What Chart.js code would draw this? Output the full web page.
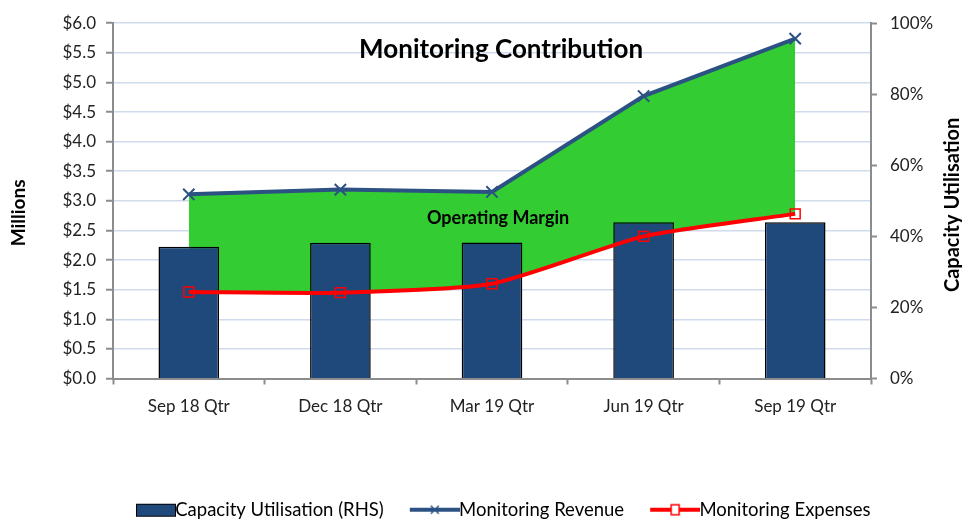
<!DOCTYPE html>
<html>
<head>
<meta charset="utf-8">
<script src="https://cdn.jsdelivr.net/npm/chart.js@4"></script>
<style>
  html, body { margin: 0; padding: 0; background: #fff; }
  #wrap { width: 962px; height: 519px; position: relative; }
</style>
</head>
<body>
<div id="wrap"><canvas id="grafico"></canvas></div>
<script>
// Datos
const categorias = ["Sep 18 Qtr", "Dec 18 Qtr", "Mar 19 Qtr", "Jun 19 Qtr", "Sep 19 Qtr"];
const capacidad = [37.1, 38.2, 38.3, 44.0, 44.0];      // % (eje derecho)
const ingresos = [3.11, 3.19, 3.15, 4.77, 5.74];        // $M
const gastos = [1.46, 1.45, 1.60, 2.40, 2.78];          // $M
const ejeIzqMax = 6, ejeIzqPaso = 0.5;
const ejeDerMax = 100, ejeDerPaso = 20;

const FUENTE = "Lato, 'Open Sans', sans-serif";
const AZUL_BARRA = "#1f487b";
const AZUL_LINEA = "#2c5284";
const ROJO = "#ff0000";
const VERDE = "#33cc33";
const GRIS = "#8c8c8c";

Chart.defaults.font.family = FUENTE;
Chart.defaults.color = "#222";

// Símbolos de la leyenda (contenido pegado a la derecha del lienzo)
function simbolo(tipo) {
  const c = document.createElement("canvas");
  c.width = 76; c.height = 16;
  const g = c.getContext("2d");
  const ym = 8;
  if (tipo === "barra") {
    g.fillStyle = AZUL_BARRA;
    g.fillRect(36, 2, 40, 13);
    g.strokeStyle = "#000"; g.lineWidth = 1;
    g.strokeRect(36.5, 2.5, 39, 12);
  } else {
    const col = tipo === "ingresos" ? AZUL_LINEA : ROJO;
    const x0 = 26, x1 = 76;
    g.strokeStyle = col; g.lineWidth = 4;
    g.beginPath(); g.moveTo(x0, ym); g.lineTo(x1, ym); g.stroke();
    const cx = (x0 + x1) / 2;
    g.lineWidth = 1.5;
    if (tipo === "ingresos") {
      g.beginPath();
      g.moveTo(cx - 4, ym - 4); g.lineTo(cx + 4, ym + 4);
      g.moveTo(cx + 4, ym - 4); g.lineTo(cx - 4, ym + 4);
      g.stroke();
    } else {
      g.fillStyle = "#fff";
      g.fillRect(cx - 4, ym - 5, 8, 10);
      g.strokeRect(cx - 4, ym - 5, 8, 10);
    }
  }
  return c;
}

// Textos dentro del gráfico y títulos de ejes
const textos = {
  id: "textos",
  afterLayout(chart) {
    chart.legend.left = 100;
  },
  afterDatasetsDraw(chart) {
    const { ctx, scales, chartArea } = chart;
    ctx.save();
    ctx.fillStyle = "#000";
    ctx.textAlign = "center";
    ctx.textBaseline = "middle";
    ctx.font = "bold 26px " + FUENTE;
    ctx.fillText("Monitoring Contribution", scales.x.getPixelForValue(2.06), scales.y.getPixelForValue(5.56));
    ctx.font = "bold 18px " + FUENTE;
    ctx.fillText("Operating Margin", scales.x.getPixelForValue(2.04), scales.y.getPixelForValue(2.71));

    const ym = (chartArea.top + chartArea.bottom) / 2;
    ctx.font = "bold 19px " + FUENTE;
    ctx.translate(19, ym + 12);
    ctx.rotate(-Math.PI / 2);
    ctx.fillText("Millions", 0, 0);
    ctx.restore();

    ctx.save();
    ctx.fillStyle = "#000";
    ctx.textAlign = "center";
    ctx.textBaseline = "middle";
    ctx.font = "bold 20px " + FUENTE;
    ctx.translate(953, ym + 4);
    ctx.rotate(-Math.PI / 2);
    ctx.fillText("Capacity Utilisation", 0, 0);
    ctx.restore();
  }
};

const ctx = document.getElementById("grafico").getContext("2d");

new Chart(ctx, {
  type: "bar",
  data: {
    labels: categorias,
    datasets: [
      {
        type: "bar",
        label: "Capacity Utilisation (RHS)",
        data: capacidad,
        yAxisID: "y1",
        backgroundColor: AZUL_BARRA,
        borderColor: "#000",
        borderWidth: 1.5,
        categoryPercentage: 1,
        barPercentage: 0.4,
        order: 2
      },
      {
        type: "line",
        label: "Monitoring Revenue",
        data: ingresos,
        yAxisID: "y",
        borderColor: AZUL_LINEA,
        borderWidth: 4,
        pointStyle: "crossRot",
        pointRadius: 8,
        pointBorderWidth: 2,
        pointBorderColor: AZUL_LINEA,
        tension: 0,
        fill: { target: 2, above: VERDE, below: VERDE },
        order: 0
      },
      {
        type: "line",
        label: "Monitoring Expenses",
        data: gastos,
        yAxisID: "y",
        borderColor: ROJO,
        borderWidth: 4,
        pointStyle: "rect",
        pointRadius: 7,
        pointBorderWidth: 1.5,
        pointBorderColor: ROJO,
        pointBackgroundColor: "rgba(255,255,255,0)",
        tension: 0.2,
        fill: false,
        order: 1
      }
    ]
  },
  options: {
    responsive: true,
    maintainAspectRatio: false,
    animation: false,
    layout: { padding: { top: 23, left: 0, right: 0, bottom: -10 } },
    scales: {
      x: {
        offset: true,
        grid: { offset: true, drawOnChartArea: false, tickLength: 6, tickColor: GRIS, tickWidth: 2 },
        border: { color: GRIS, width: 2 },
        ticks: { font: { size: 17 }, color: "#222", padding: 12, maxRotation: 0 },
        afterFit(s) { s.height = 112; }
      },
      y: {
        position: "left",
        min: 0, max: ejeIzqMax,
        grid: { color: "#d0dcee", lineWidth: 1.5, tickLength: 7, tickColor: GRIS, tickWidth: 2 },
        border: { color: GRIS, width: 2 },
        ticks: {
          stepSize: ejeIzqPaso,
          font: { size: 17 }, color: "#222", padding: 10,
          callback: v => "$" + v.toFixed(1)
        },
        afterFit(s) { s.width = 113; }
      },
      y1: {
        position: "right",
        min: 0, max: ejeDerMax,
        grid: { drawOnChartArea: false, tickLength: 6, tickColor: GRIS, tickWidth: 2 },
        border: { color: GRIS, width: 2 },
        ticks: {
          stepSize: ejeDerPaso,
          font: { size: 17 }, color: "#222", padding: 13,
          callback: v => v + "%"
        },
        afterFit(s) { s.width = 91; }
      }
    },
    plugins: {
      filler: { drawTime: "beforeDatasetsDraw" },
      tooltip: { enabled: false },
      legend: {
        position: "bottom",
        align: "start",
        labels: {
          usePointStyle: true,
          pointStyleWidth: 56,
          padding: 10,
          font: { size: 18.5 },
          color: "#222",
          generateLabels() {
            return [
              { text: "Capacity Utilisation (RHS)", pointStyle: simbolo("barra"), datasetIndex: 0, lineWidth: 0, strokeStyle: "rgba(0,0,0,0)", fillStyle: "rgba(0,0,0,0)" },
              { text: "Monitoring Revenue", pointStyle: simbolo("ingresos"), datasetIndex: 1, lineWidth: 0, strokeStyle: "rgba(0,0,0,0)", fillStyle: "rgba(0,0,0,0)" },
              { text: "Monitoring Expenses", pointStyle: simbolo("gastos"), datasetIndex: 2, lineWidth: 0, strokeStyle: "rgba(0,0,0,0)", fillStyle: "rgba(0,0,0,0)" }
            ];
          }
        }
      }
    }
  },
  plugins: [textos]
});
</script>
</body>
</html>
